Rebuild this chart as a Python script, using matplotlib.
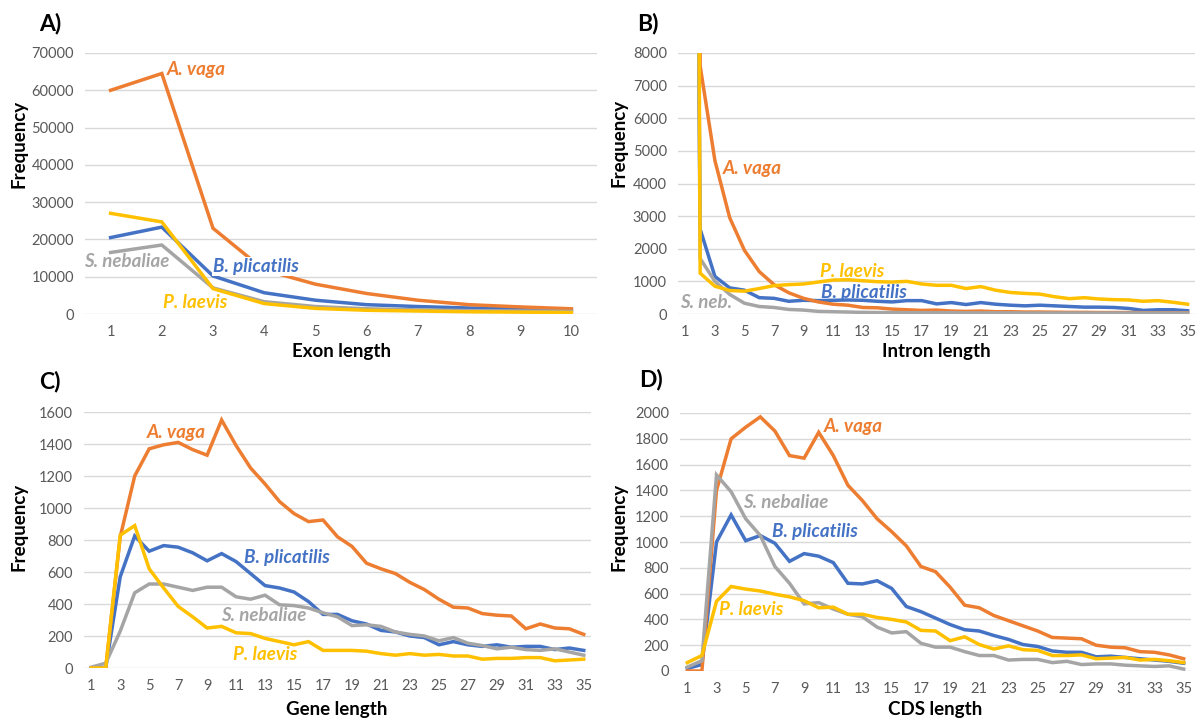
import matplotlib.pyplot as plt
import numpy as np

plt.rcParams['font.family'] = ['Lato', 'DejaVu Sans']

# цвета серий (палитра Excel)
c_blue = '#4472C4'
c_orange = '#ED7D31'
c_gray = '#A5A5A5'
c_yellow = '#FFC000'

# A) длина экзонов, 1..10
exon_x = list(range(1, 11))
exon_vaga = [60000, 64500, 23000, 11800, 8000, 5500, 3700, 2500, 1900, 1400]
exon_plic = [20500, 23300, 10200, 5700, 3700, 2500, 2000, 1600, 1300, 1000]
exon_neb = [16500, 18500, 7000, 3300, 2000, 1400, 1100, 900, 800, 700]
exon_laev = [27000, 24700, 6800, 2800, 1500, 1000, 800, 600, 500, 400]

# B) длина интронов, 1..35 (значения при 1 далеко за пределами оси)
intron_x = list(range(1, 36))
intron_vaga = [90000, 7600, 4700, 2950, 1950, 1300, 900, 650, 480, 370, 300, 270, 200, 190, 150,
               130, 110, 120, 90, 80, 90, 70, 70, 60, 60, 55, 50, 50, 45, 45, 45, 40, 40, 40, 40]
intron_plic = [60000, 2600, 1150, 800, 730, 500, 480, 390, 420, 410, 420, 430, 420, 390, 370,
               410, 410, 310, 350, 290, 350, 300, 270, 250, 270, 250, 230, 210, 210, 200, 170,
               110, 130, 130, 100]
intron_neb = [70000, 1700, 1000, 600, 330, 230, 200, 140, 120, 80, 70, 60, 50, 45, 45,
              40, 40, 40, 40, 35, 35, 35, 35, 30, 30, 30, 30, 30, 30, 30, 30, 30, 30, 30, 30]
intron_laev = [110000, 1250, 850, 720, 700, 780, 870, 900, 920, 980, 1040, 1050, 1020, 990, 980,
               1000, 920, 880, 880, 780, 840, 730, 660, 630, 610, 530, 470, 500, 460, 440, 430,
               390, 410, 360, 300]

# C) длина генов, 1..35
gene_x = list(range(1, 36))
gene_vaga = [0, 0, 820, 1200, 1370, 1395, 1410, 1365, 1330, 1550, 1390, 1250, 1150, 1040, 965,
             915, 925, 820, 760, 655, 620, 590, 535, 490, 430, 380, 375, 340, 330, 325, 245,
             275, 250, 245, 210]
gene_plic = [0, 0, 570, 825, 730, 765, 755, 720, 670, 715, 665, 590, 515, 500, 475,
             415, 335, 335, 295, 275, 235, 225, 200, 190, 145, 165, 145, 135, 145, 130, 135,
             135, 115, 125, 110]
gene_neb = [5, 30, 230, 470, 525, 525, 505, 485, 505, 505, 445, 430, 455, 395, 390,
            375, 345, 320, 265, 270, 260, 225, 210, 200, 170, 190, 155, 140, 120, 130, 115,
            110, 120, 100, 80]
gene_laev = [0, 0, 830, 890, 620, 500, 385, 320, 250, 260, 220, 215, 185, 165, 145,
             165, 110, 110, 110, 105, 90, 80, 90, 80, 85, 75, 75, 55, 60, 60, 65,
             65, 45, 50, 55]

# D) длина CDS, 1..35
cds_x = list(range(1, 36))
cds_vaga = [0, 0, 1400, 1800, 1890, 1970, 1860, 1670, 1650, 1850, 1670, 1440, 1320, 1180, 1080,
            970, 810, 770, 650, 510, 490, 430, 390, 350, 310, 260, 255, 250, 200, 185, 180,
            150, 145, 125, 95]
cds_plic = [20, 50, 1000, 1210, 1010, 1050, 990, 850, 910, 890, 840, 680, 675, 700, 640,
            500, 460, 410, 360, 320, 310, 275, 245, 205, 190, 155, 145, 145, 110, 115, 105,
            95, 85, 75, 60]
cds_neb = [30, 80, 1520, 1390, 1180, 1050, 810, 680, 520, 530, 480, 440, 420, 340, 295,
           305, 215, 185, 185, 150, 120, 120, 85, 90, 90, 65, 75, 50, 55, 55, 45,
           40, 35, 40, 15]
cds_laev = [65, 120, 540, 655, 635, 620, 595, 575, 545, 490, 495, 440, 440, 415, 400,
            380, 315, 310, 235, 265, 205, 170, 195, 165, 160, 120, 120, 125, 95, 100, 105,
            85, 90, 80, 65]

W, H = 1197, 721
fig = plt.figure(figsize=(W / 100, H / 100), dpi=100)


def box(l, t, r, b):
    return [l / W, 1 - b / H, (r - l) / W, (b - t) / H]


def panel(rect, x, series, ymax, ystep, xtick_step):
    ax = fig.add_axes(rect)
    for y, c in series:
        ax.plot(x, y, color=c, lw=2.5, solid_joinstyle='miter')
    ax.set_xlim(0.5, len(x) + 0.5)
    ax.set_ylim(0, ymax)
    ax.set_yticks(np.arange(0, ymax + 1, ystep))
    ax.set_xticks(x[::xtick_step])
    ax.grid(axis='y', color='#D9D9D9', lw=1)
    ax.set_axisbelow(True)
    for s in ax.spines.values():
        s.set_visible(False)
    ax.tick_params(length=0, labelsize=10.5, labelcolor='#595959', pad=8)
    return ax


def lab(ax, x, y, s, c, bg=False):
    t = ax.text(x, y, s, color=c, fontsize=13.5, fontweight='bold', fontstyle='italic',
                va='center', ha='left')
    if bg:
        t.set_bbox(dict(facecolor='white', edgecolor='none', pad=0.5))


def ftext(x, y, s, **kw):
    fig.text(x / W, 1 - y / H, s, ha='center', va='center', color='black', **kw)


# A
axA = panel(box(85, 53, 597, 314), exon_x,
            [(exon_plic, c_blue), (exon_vaga, c_orange), (exon_neb, c_gray), (exon_laev, c_yellow)],
            70000, 10000, 1)
lab(axA, 2.1, 65500, 'A. vaga', c_orange)
lab(axA, 0.49, 14200, 'S. nebaliae', c_gray)
lab(axA, 3.0, 12800, 'B. plicatilis', c_blue, bg=True)
lab(axA, 2.02, 3200, 'P. laevis', c_yellow)

# B
axB = panel(box(678, 53, 1195, 314), intron_x,
            [(intron_plic, c_blue), (intron_vaga, c_orange), (intron_neb, c_gray), (intron_laev, c_yellow)],
            8000, 1000, 2)
lab(axB, 3.5, 4450, 'A. vaga', c_orange)
lab(axB, 10.1, 1310, 'P. laevis', c_yellow)
lab(axB, 10.15, 670, 'B. plicatilis', c_blue)
lab(axB, 0.66, 340, 'S. neb.', c_gray)

# C
axC = panel(box(84, 412, 591, 668), gene_x,
            [(gene_plic, c_blue), (gene_vaga, c_orange), (gene_neb, c_gray), (gene_laev, c_yellow)],
            1600, 200, 2)
lab(axC, 4.83, 1470, 'A. vaga', c_orange)
lab(axC, 11.55, 693, 'B. plicatilis', c_blue)
lab(axC, 9.97, 330, 'S. nebaliae', c_gray)
lab(axC, 10.77, 87, 'P. laevis', c_yellow)

# D
axD = panel(box(680, 413, 1191, 671), cds_x,
            [(cds_plic, c_blue), (cds_vaga, c_orange), (cds_neb, c_gray), (cds_laev, c_yellow)],
            2000, 200, 2)
lab(axD, 10.38, 1894, 'A. vaga', c_orange)
lab(axD, 4.84, 1305, 'S. nebaliae', c_gray)
lab(axD, 6.81, 1080, 'B. plicatilis', c_blue)
lab(axD, 3.17, 473, 'P. laevis', c_yellow)

# подписи панелей и осей
for x, y, s in [(50, 24, 'A)'), (648, 23, 'B)'), (50, 382, 'C)'), (651, 380, 'D)')]:
    ftext(x, y, s, fontsize=16.5, fontweight='bold')
for x, y in [(19, 144), (619, 143), (19, 527), (619, 527)]:
    ftext(x, y, 'Frequency', fontsize=13.5, fontweight='bold', rotation=90)
for x, y, s in [(341, 352, 'Exon length'), (936, 352, 'Intron length'),
                (337, 710, 'Gene length'), (935, 710, 'CDS length')]:
    ftext(x, y, s, fontsize=13.5, fontweight='bold')

fig.savefig('out.png', dpi=100, facecolor='white')
